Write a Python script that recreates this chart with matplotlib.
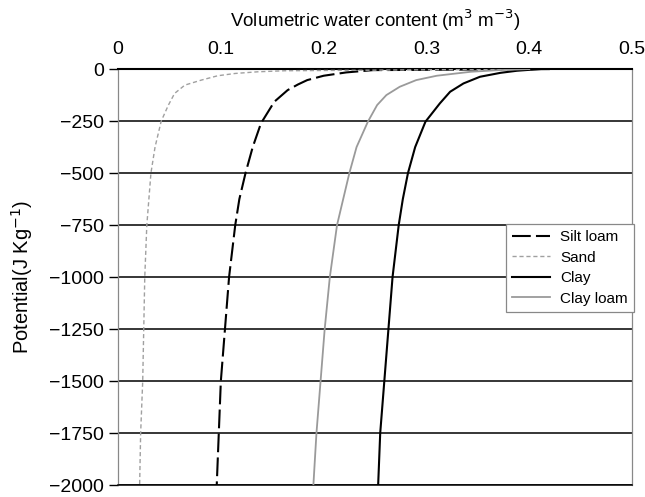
import matplotlib
matplotlib.use("Agg")
import matplotlib.pyplot as plt

plt.rcParams['font.family'] = ['Liberation Sans', 'DejaVu Sans']

# curves: potential (J/kg) vs water content
sand_psi = [0, -8, -13, -21, -32, -53, -77, -117, -173, -250, -375, -500, -625, -750, -1000, -1250, -1500, -1750, -2000]
sand_theta = [0.40, 0.162, 0.136, 0.114, 0.097, 0.081, 0.065, 0.055, 0.049, 0.042, 0.036, 0.032, 0.030, 0.028, 0.026, 0.025, 0.024, 0.022, 0.021]

silt_psi = [0, -5, -16, -32, -53, -74, -101, -157, -261, -375, -500, -625, -750, -1000, -1250, -1500, -1750, -2000]
silt_theta = [0.42, 0.248, 0.222, 0.200, 0.184, 0.175, 0.165, 0.152, 0.139, 0.131, 0.124, 0.118, 0.114, 0.108, 0.104, 0.100, 0.098, 0.096]

clayloam_psi = [0, -5, -13, -21, -32, -53, -85, -125, -173, -253, -375, -500, -625, -750, -1000, -1250, -1500, -1750, -2000]
clayloam_theta = [0.40, 0.37, 0.343, 0.329, 0.310, 0.290, 0.274, 0.261, 0.252, 0.243, 0.232, 0.225, 0.219, 0.213, 0.206, 0.201, 0.197, 0.193, 0.190]

clay_psi = [0, -8, -18, -37, -69, -109, -165, -253, -375, -500, -625, -750, -1000, -1250, -1500, -1750, -2000]
clay_theta = [0.41, 0.388, 0.372, 0.352, 0.336, 0.323, 0.313, 0.299, 0.289, 0.282, 0.277, 0.273, 0.267, 0.263, 0.259, 0.255, 0.253]

x_ticks = [0, 0.1, 0.2, 0.3, 0.4, 0.5]
x_labels = ['0', '0.1', '0.2', '0.3', '0.4', '0.5']
y_ticks = [0, -250, -500, -750, -1000, -1250, -1500, -1750, -2000]

fig = plt.figure(figsize=(6.45, 4.97), dpi=100)
ax = fig.add_axes([0.183, 0.024, 0.797, 0.837])

# horizontal grid lines
for yv in y_ticks:
    ax.axhline(yv, color='black', lw=1.1, zorder=1)

ax.plot(silt_theta, silt_psi, color='black', lw=1.5, linestyle=(0, (9, 2.5)), label='Silt loam', zorder=3)
ax.plot(sand_theta, sand_psi, color='#a0a0a0', lw=1.0, linestyle=(0, (3, 2)), label='Sand', zorder=3)
ax.plot(clay_theta, clay_psi, color='black', lw=1.5, label='Clay', zorder=3)
ax.plot(clayloam_theta, clayloam_psi, color='#9a9a9a', lw=1.3, label='Clay loam', zorder=3)

ax.set_xlim(0, 0.5)
ax.set_ylim(-2000, 0)
ax.xaxis.tick_top()
ax.xaxis.set_label_position('top')
ax.set_xticks(x_ticks)
ax.set_xticklabels(x_labels)
ax.set_yticks(y_ticks)
ax.tick_params(axis='x', length=0, pad=8, labelsize=14)
ax.tick_params(axis='y', length=6.5, width=1, pad=3.5, labelsize=14)

ax.set_xlabel('Volumetric water content (m$^3$ m$^{-3}$)', fontsize=13.5, labelpad=10)
ax.set_ylabel('Potential(J Kg$^{-1}$)', fontsize=14.5, labelpad=10)

ax.spines['top'].set_linewidth(1.5)
ax.spines['bottom'].set_linewidth(1.1)
ax.spines['left'].set_color('#888888')
ax.spines['right'].set_color('#888888')
ax.spines['left'].set_linewidth(0.9)
ax.spines['right'].set_linewidth(0.9)

leg = ax.legend(loc='upper right', bbox_to_anchor=(1.003, 0.627), fontsize=11,
                frameon=True, fancybox=False, handlelength=2.5, borderpad=0.4,
                labelspacing=0.42, handletextpad=0.65, borderaxespad=0)
leg.get_frame().set_edgecolor('#888888')
leg.get_frame().set_linewidth(0.9)
leg.get_frame().set_alpha(1)

fig.savefig('out.png', dpi=100)
